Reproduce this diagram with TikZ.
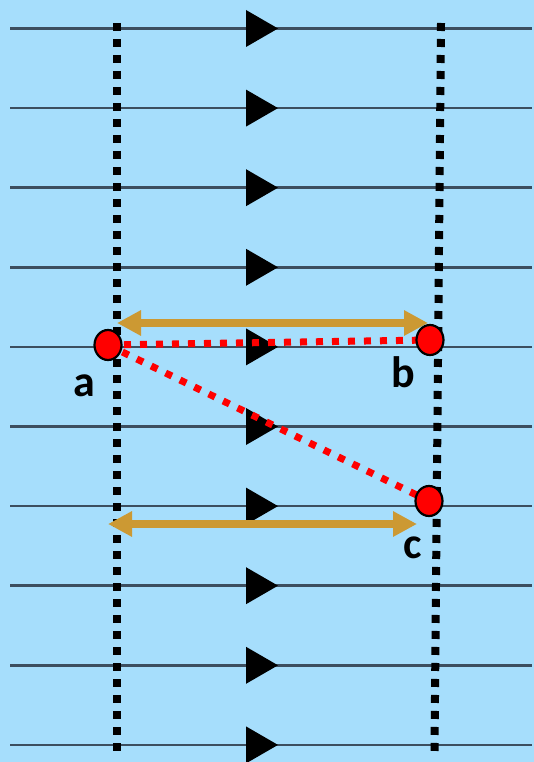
\documentclass[tikz,border=0pt]{standalone}
\usepackage{fontspec}
\setmainfont{Carlito}
\usetikzlibrary{arrows.meta}
\definecolor{bgblue}{RGB}{166,222,252}
\definecolor{linegray}{RGB}{60,78,95}
\definecolor{gold}{RGB}{204,153,51}
\tikzset{
  flowline/.style={draw=linegray, line width=2.5pt},
  flowtri/.style={fill=black},
  vdots/.style={draw=black, line width=8pt, dash pattern=on 8pt off 8pt},
  reddots/.style={draw=red, line width=7pt, dash pattern=on 7pt off 9pt},
  goldarrow/.style={draw=gold, line width=8pt, {Triangle[length=24pt,width=24pt]}-{Triangle[length=24pt,width=24pt]}},
  pointdot/.style={ellipse, draw=black, line width=2.2pt, fill=red, minimum width=27pt, minimum height=30pt, inner sep=0pt},
  lbl/.style={font=\bfseries\fontsize{44}{44}\selectfont, inner sep=0pt, anchor=base}
}
\usetikzlibrary{shapes.geometric}
\begin{document}
\begin{tikzpicture}[x=1pt,y=-1pt]
\fill[bgblue] (0,0) rectangle (534,762);
\useasboundingbox (0,0) rectangle (534,762);
% horizontal flow lines with triangles
\foreach \i in {0,...,9}{
  \pgfmathsetmacro{\yy}{28.5+79.6*\i}
  \draw[flowline] (10,\yy) -- (532,\yy);
  \fill[flowtri] (246,\yy-18.5) -- (278,\yy) -- (246,\yy+18.5) -- cycle;
}
% vertical dotted lines
\coordinate (l1) at (117,23);
\coordinate (l2) at (117,752);
\coordinate (r1) at (441,23);
\coordinate (r2) at (434.5,752);
\draw[vdots] (l1) -- (l2);
\draw[vdots] (r1) -- (r2);
% gold arrows
\coordinate (g1) at (117,323);
\coordinate (g2) at (428,323);
\coordinate (g3) at (108,524);
\coordinate (g4) at (417,524);
\draw[goldarrow] (g1) -- (g2);
\draw[goldarrow] (g3) -- (g4);
% red dotted lines
\coordinate (pa) at (108,345);
\coordinate (pb) at (430,340);
\coordinate (pc) at (429,501);
\draw[reddots] (pa) -- (pb);
\draw[reddots] (pa) -- (pc);
% points
\node[pointdot] (a) at (pa) {};
\node[pointdot] (b) at (pb) {};
\node[pointdot] (c) at (pc) {};
% labels
\node[lbl] (la) at (84.5,396) {a};
\node[lbl] (lb) at (403.5,387) {b};
\node[lbl] (lc) at (412.5,558) {c};
\end{tikzpicture}
\end{document}
